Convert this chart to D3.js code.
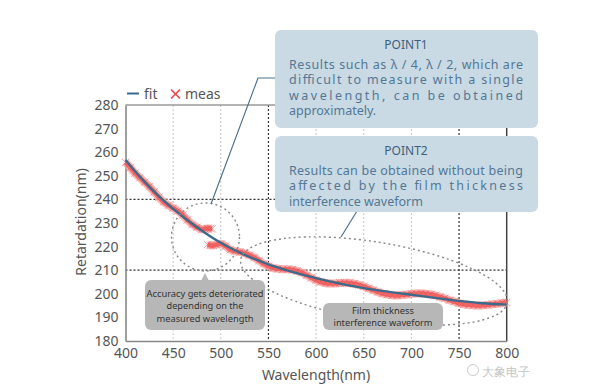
<!DOCTYPE html>
<html><head><meta charset="utf-8">
<script src="https://cdn.jsdelivr.net/npm/d3@7"></script>
<style>
html,body{margin:0;padding:0;background:#fff;}
text{font-family:"Noto Sans",sans-serif;}
</style></head>
<body>
<svg id="chart" width="592" height="386"></svg>
<script>
// ---------- data ----------
const xTicks = [400, 450, 500, 550, 600, 650, 700, 750, 800];
const yTicks = [180, 190, 200, 210, 220, 230, 240, 250, 260, 270, 280];
const darkVGrid = [550, 750];
const lightVGrid = [450, 500, 600, 650, 700];
const darkHGrid = [240, 210];

const fitWl  = [400, 425, 450, 475, 500, 525, 550, 575, 600, 625, 650, 675, 700, 725, 750, 775, 800];
const fitVal = [256.7, 245.3, 236.0, 228.2, 221.6, 216.5, 212.5, 209.3, 206.6, 204.3, 202.4, 200.9, 199.6, 198.3, 197.0, 196.0, 195.4];

const measWl = [400, 405, 410, 415, 420, 425, 430, 435, 440, 445, 450, 455, 460, 465, 470, 475, 480, 483, 486, 489, 491,
                486, 489, 492, 495, 500, 505, 510, 515, 520, 525, 530, 535, 540, 545, 550, 555, 560, 565, 570, 575,
                580, 585, 590, 595, 600, 605, 610, 615, 620, 625, 630, 635, 640, 645, 650, 655, 660, 665, 670, 675,
                680, 685, 690, 695, 700, 705, 710, 715, 720, 725, 730, 735, 740, 745, 750, 755, 760, 765, 770, 775,
                780, 785, 790, 795, 800];
const measVal = [255.7, 253.5, 251.1, 249.2, 247.3, 245.4, 243.2, 240.9, 238.9, 237.5, 236.3, 235.1, 233.4, 231.3, 229.4, 228.2, 227.3, 227.5, 227.7, 227.6, 227.6,
                 220.9, 220.6, 220.5, 220.8, 221.2, 220.2, 218.7, 218.1, 217.7, 217.2, 216.4, 215.4, 214.1, 212.7, 211.7, 210.9, 210.6, 210.4, 210.4, 210.2,
                 209.7, 209.0, 207.9, 206.8, 205.8, 205.0, 204.5, 204.4, 204.4, 204.6, 204.7, 204.6, 204.3, 203.8, 203.1, 202.3, 201.5, 200.7, 200.1, 199.7,
                 199.4, 199.3, 199.5, 199.7, 200.0, 200.1, 200.2, 200.0, 199.8, 199.3, 198.7, 198.1, 197.3, 196.7, 196.0, 195.6, 195.3, 195.1, 195.0, 195.1,
                 195.3, 195.6, 195.8, 196.1, 196.3];

const legendLabels = ["fit", "meas"];
const point1Title = "POINT1";
const point1Lines = ["Results such as \u03bb / 4, \u03bb / 2, which are", "difficult to measure with a single", "wavelength, can be obtained", "approximately."];
const point2Title = "POINT2";
const point2Lines = ["Results can be obtained without being", "affected by the film thickness", "interference waveform"];
const note1Lines = ["Accuracy gets deteriorated", "depending on the", "measured wavelength"];
const note2Lines = ["Film thickness", "interference waveform"];
const xTitle = "Wavelength(nm)";
const yTitle = "Retardation(nm)";
const watermark = "大象电子";

// ---------- layout ----------
const svg = d3.select("#chart");
const L = 125.5, R = 506.7, T = 105, B = 341;
const x = d3.scaleLinear().domain([400, 800]).range([L, R]);
const y = d3.scaleLinear().domain([180, 280]).range([B, T]);

// grid
const g = svg.append("g");
g.selectAll(".lv").data(lightVGrid).join("line")
  .attr("x1", d => x(d)).attr("x2", d => x(d)).attr("y1", T).attr("y2", B)
  .attr("stroke", "#c4c4c4").attr("stroke-width", 1).attr("stroke-dasharray", "2,2");
g.selectAll(".dv").data(darkVGrid).join("line")
  .attr("x1", d => x(d)).attr("x2", d => x(d)).attr("y1", T).attr("y2", B)
  .attr("stroke", "#333").attr("stroke-width", 1.2).attr("stroke-dasharray", "2,2");
g.selectAll(".dh").data(darkHGrid).join("line")
  .attr("x1", L).attr("x2", R).attr("y1", d => y(d)).attr("y2", d => y(d))
  .attr("stroke", "#333").attr("stroke-width", 1.2).attr("stroke-dasharray", "2,2");

// frame
svg.append("line").attr("x1", L).attr("x2", R).attr("y1", T).attr("y2", T).attr("stroke", "#999").attr("stroke-width", 1.5);
svg.append("line").attr("x1", R).attr("x2", R).attr("y1", T).attr("y2", B).attr("stroke", "#444").attr("stroke-width", 1.5);

// axes
const xAxis = svg.append("g").attr("transform", `translate(0,${B})`)
  .call(d3.axisBottom(x).tickValues(xTicks).tickSize(0).tickPadding(7));
const yAxis = svg.append("g").attr("transform", `translate(${L},0)`)
  .call(d3.axisLeft(y).tickValues(yTicks).tickSize(0).tickPadding(7));
[xAxis, yAxis].forEach(a => {
  a.select(".domain").attr("stroke", "#888").attr("stroke-width", 1.6);
  a.selectAll("text").attr("font-size", 14).attr("fill", "#555").attr("font-family", "Noto Sans");
});

// meas data
const meas = measWl.map((w, i) => ({w, v: measVal[i]}));
const segs = [];
meas.forEach((p, i) => {
  if (i === 0 || Math.abs(p.v - meas[i-1].v) > 3) segs.push([]);
  segs[segs.length - 1].push(p);
});
const mLine = d3.line().x(d => x(d.w)).y(d => y(d.v)).curve(d3.curveCatmullRom);
svg.append("g").selectAll("path").data(segs).join("path")
  .attr("d", mLine).attr("fill", "none").attr("stroke", "#f7a0a0").attr("stroke-width", 8).attr("stroke-opacity", 0.8);
svg.append("g").selectAll("path").data(segs).join("path")
  .attr("d", mLine).attr("fill", "none").attr("stroke", "#ef5a5a").attr("stroke-width", 4.5).attr("stroke-opacity", 0.85);
const xs = 3.8;
const mk = svg.append("g").attr("stroke", "#ee5050").attr("stroke-width", 0.9).attr("stroke-opacity", 0.55);
mk.selectAll("path").data(meas).join("path")
  .attr("d", d => { const cx = x(d.w), cy = y(d.v); return `M${cx-xs},${cy-xs}L${cx+xs},${cy+xs}M${cx-xs},${cy+xs}L${cx+xs},${cy-xs}`; });

// fit
const fit = fitWl.map((w, i) => ({w, v: fitVal[i]}));
svg.append("path").datum(fit)
  .attr("d", d3.line().x(d => x(d.w)).y(d => y(d.v)).curve(d3.curveMonotoneX))
  .attr("fill", "none").attr("stroke", "#3d6a8a").attr("stroke-width", 2.3);

// dashed circle & ellipse
svg.append("circle").attr("cx", 205.5).attr("cy", 237).attr("r", 34)
  .attr("fill", "none").attr("stroke", "#888").attr("stroke-width", 1.4).attr("stroke-dasharray", "2,3");
svg.append("ellipse").attr("cx", 374).attr("cy", 281).attr("rx", 135).attr("ry", 39)
  .attr("transform", "rotate(9.2,374,281)")
  .attr("fill", "none").attr("stroke", "#888").attr("stroke-width", 1.4).attr("stroke-dasharray", "2,3");

// leader lines
svg.append("polyline").attr("points", "276,78 258,78 211,204")
  .attr("fill", "none").attr("stroke", "#4d7290").attr("stroke-width", 1.2);
svg.append("line").attr("x1", 357).attr("y1", 211).attr("x2", 341).attr("y2", 237)
  .attr("stroke", "#4d7290").attr("stroke-width", 1.2);

// POINT boxes
function pointBox(top, bottom, title, lines, justify) {
  svg.append("rect").attr("x", 275).attr("y", top).attr("width", 263).attr("height", bottom - top)
    .attr("rx", 6).attr("fill", "#c9dae4");
  svg.append("text").attr("x", 406).attr("y", top + 19).attr("text-anchor", "middle")
    .attr("font-family", "'Liberation Sans',sans-serif")
    .attr("font-size", 12).attr("fill", "#3f5f7c").text(title);
  lines.forEach((t, i) => {
    const tx = svg.append("text").attr("x", 289).attr("y", top + 38.5 + i * 15.5)
      .attr("font-family", "'Liberation Sans',sans-serif")
      .attr("font-size", 12.5).attr("fill", "#537795").text(t);
    if (justify[i]) tx.attr("textLength", 234).attr("lengthAdjust", "spacing");
  });
}
pointBox(30, 128, point1Title, point1Lines, [true, true, true, false]);
pointBox(136, 212, point2Title, point2Lines, [true, true, false]);

// gray notes
function note(x0, y0, w, h, lines, widths, ys) {
  svg.append("rect").attr("x", x0).attr("y", y0).attr("width", w).attr("height", h).attr("rx", 6).attr("fill", "#b7b7b7");
  lines.forEach((t, i) => {
    svg.append("text").attr("x", x0 + w / 2).attr("y", ys[i]).attr("text-anchor", "middle")
      .attr("font-family", "'Liberation Sans Narrow','Liberation Sans',sans-serif")
      .attr("font-size", 9.5).attr("fill", "#333").attr("textLength", widths[i]).attr("lengthAdjust", "spacingAndGlyphs").text(t);
  });
}
svg.append("path").attr("d", "M201,281 L205,273 L209,281 Z").attr("fill", "#b7b7b7");
note(145, 280, 120, 50, note1Lines, [117, 77, 97], [296.5, 309, 321.5]);
note(323, 303, 120, 27, note2Lines, [62, 99], [313.5, 326]);

// legend
svg.append("line").attr("x1", 127).attr("x2", 139).attr("y1", 93.5).attr("y2", 93.5).attr("stroke", "#3d6a8a").attr("stroke-width", 2);
svg.append("text").attr("x", 144).attr("y", 98.5).attr("font-size", 14).attr("fill", "#555").text(legendLabels[0]);
svg.append("path").attr("d", "M171,89.5L180,98.5M171,98.5L180,89.5").attr("stroke", "#e8474c").attr("stroke-width", 1.6);
svg.append("text").attr("x", 185).attr("y", 98.5).attr("font-size", 14).attr("fill", "#555").text(legendLabels[1]);

// titles
svg.append("text").attr("x", 316).attr("y", 380).attr("text-anchor", "middle").attr("font-size", 14).attr("fill", "#555").text(xTitle);
svg.append("text").attr("transform", "translate(86,222) rotate(-90)").attr("text-anchor", "middle").attr("font-size", 14).attr("fill", "#555").text(yTitle);

// watermark
svg.append("circle").attr("cx", 473).attr("cy", 370).attr("r", 5.5).attr("fill", "none").attr("stroke", "#ccc").attr("stroke-width", 1);
svg.append("text").attr("x", 482).attr("y", 376).attr("font-size", 12).attr("fill", "#c4c4c4")
  .attr("font-family", "Noto Sans CJK SC").text(watermark);
</script>
</body></html>
